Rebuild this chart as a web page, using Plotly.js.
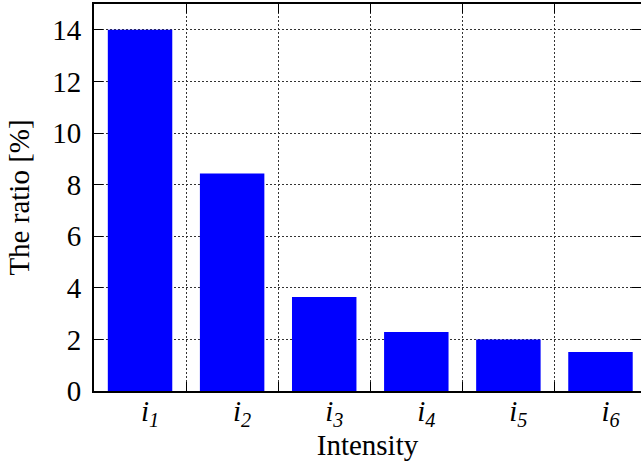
<!DOCTYPE html>
<html>
<head>
<meta charset="utf-8">
<script src="https://cdn.plot.ly/plotly-3.0.1.min.js"></script>
<style>
  html, body { margin: 0; padding: 0; background: #fff; overflow: hidden; }
  #chart { width: 641px; height: 461px; }
</style>
</head>
<body>
<div id="chart"></div>
<script>
// Ratio per intensity level
const categories = ['i<sub>1</sub>', 'i<sub>2</sub>', 'i<sub>3</sub>', 'i<sub>4</sub>', 'i<sub>5</sub>', 'i<sub>6</sub>'];
const ratios = [14.0, 8.43, 3.64, 2.29, 2.0, 1.51];
const yTicks = [0, 2, 4, 6, 8, 10, 12, 14];

const positions = categories.map((_, i) => i);
const boundaries = categories.slice(1).map((_, i) => i + 0.5);

const font = { family: '"Liberation Serif", "Times New Roman", serif', size: 29, color: '#000' };

const trace = {
  type: 'bar',
  x: positions,
  y: ratios,
  width: 0.7,
  marker: { color: '#0000ff', line: { width: 0 } },
  hoverinfo: 'skip'
};

const dotted = '1.5px,2.5px';

const layout = {
  width: 641,
  height: 461,
  margin: { l: 94, r: 0, t: 4, b: 70 },
  paper_bgcolor: '#fff',
  plot_bgcolor: '#fff',
  font: font,
  showlegend: false,
  xaxis: {
    range: [-0.5, 5.44],
    tickmode: 'array',
    tickvals: positions,
    ticktext: categories.map(c => '<i>' + c + '</i>'),
    ticks: '',
    showgrid: false,
    zeroline: false,
    showline: true,
    linecolor: '#000',
    linewidth: 2,
    mirror: 'ticks',
    ticklabelstandoff: -7,
    ticklabelshift: 10,
    tickfont: font,
    minor: {
      tickmode: 'array',
      tickvals: boundaries,
      ticks: 'inside',
      ticklen: 9,
      tickwidth: 1,
      tickcolor: '#000',
      showgrid: true,
      gridcolor: '#333',
      gridwidth: 1,
      griddash: dotted
    },
    title: { text: 'Intensity', font: font, standoff: 5 }
  },
  yaxis: {
    range: [0, 15],
    tickmode: 'array',
    tickvals: yTicks,
    ticks: 'inside',
    ticklen: 9,
    tickwidth: 1,
    tickcolor: '#000',
    showgrid: true,
    gridcolor: '#333',
    gridwidth: 1,
    griddash: dotted,
    zeroline: false,
    showline: true,
    linecolor: '#000',
    linewidth: 2,
    mirror: 'ticks',
    ticklabelstandoff: 5,
    tickfont: font,
    title: { text: 'The ratio [%]', font: font, standoff: 14 }
  }
};

Plotly.newPlot('chart', [trace], layout, { displayModeBar: false, staticPlot: true });
</script>
</body>
</html>
